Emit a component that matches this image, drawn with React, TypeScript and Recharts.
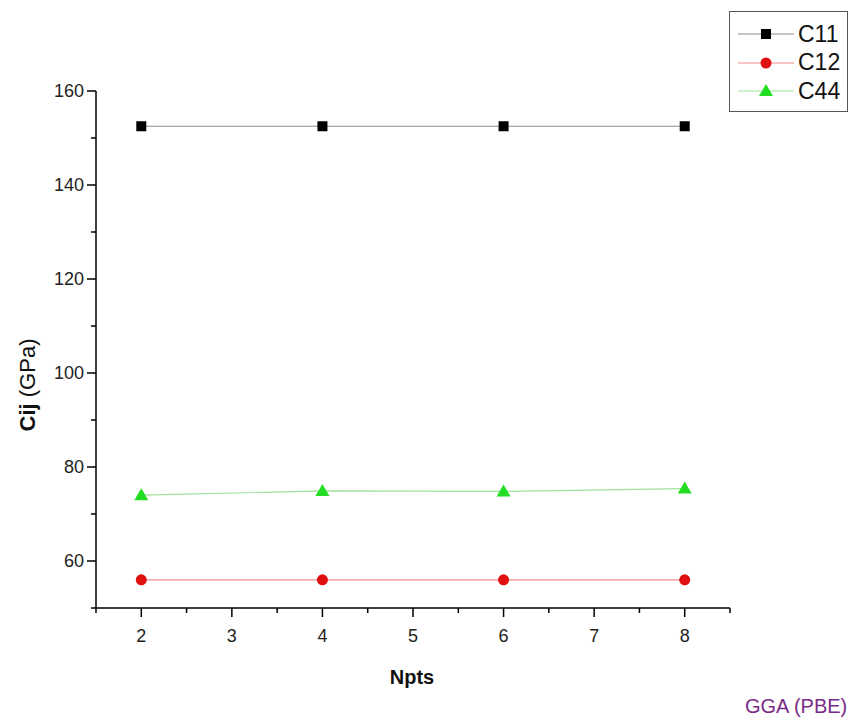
import { LineChart, Line, XAxis, YAxis, Legend, Label } from "recharts";

const npts = [2, 4, 6, 8];
const c11 = [152.5, 152.5, 152.5, 152.5];
const c12 = [56, 56, 56, 56];
const c44 = [74.0, 74.9, 74.8, 75.4];

const xTicks = [1.5, 2, 2.5, 3, 3.5, 4, 4.5, 5, 5.5, 6, 6.5, 7, 7.5, 8, 8.5];
const yTicks = [50, 60, 70, 80, 90, 100, 110, 120, 130, 140, 150, 160];

const seriesNames = ["C11", "C12", "C44"];
const lineColors = ["#8c8c8c", "#f08c8c", "#9ee09e"];
const markColors = ["#000000", "#e01010", "#22dd22"];

const data = npts.map((n, i) => ({ n, C11: c11[i], C12: c12[i], C44: c44[i] }));

const FONT = "'Liberation Sans', Arial, sans-serif";

function Marker({ kind, cx, cy }: { kind: number; cx: number; cy: number }) {
  if (kind === 0)
    return <rect x={cx - 5} y={cy - 5} width={10} height={10} fill={markColors[0]} />;
  if (kind === 1) return <circle cx={cx} cy={cy} r={5.5} fill={markColors[1]} />;
  return (
    <polygon
      points={`${cx},${cy - 7} ${cx - 7},${cy + 5} ${cx + 7},${cy + 5}`}
      fill={markColors[2]}
    />
  );
}

const XTick = (props: any) => {
  const { x, y, payload } = props;
  const major = Number.isInteger(payload.value);
  return (
    <g>
      <line x1={x} y1={y} x2={x} y2={y + (major ? 9 : 5)} stroke="#000" strokeWidth={1.5} />
      {major && payload.value >= 2 && payload.value <= 8 && (
        <text x={x} y={y + 34} textAnchor="middle" fontSize={18} fill="#222" fontFamily={FONT}>
          {payload.value}
        </text>
      )}
    </g>
  );
};

const YTick = (props: any) => {
  const { x, y, payload } = props;
  const major = payload.value % 20 === 0;
  return (
    <g>
      <line x1={x} y1={y} x2={x - (major ? 9 : 5)} y2={y} stroke="#000" strokeWidth={1.5} />
      {major && (
        <text x={x - 12} y={y + 6} textAnchor="end" fontSize={18} fill="#222" fontFamily={FONT}>
          {payload.value}
        </text>
      )}
    </g>
  );
};

const LegendBox = () => (
  <div
    style={{
      width: 119,
      height: 101,
      border: "1px solid #555",
      background: "#fff",
      fontFamily: FONT,
      paddingTop: 8,
      boxSizing: "border-box",
    }}
  >
    {seriesNames.map((name, i) => (
      <div key={name} style={{ display: "flex", alignItems: "center", height: 28.5 }}>
        <svg width={68} height={24}>
          <line x1={8} y1={12} x2={64} y2={12} stroke={lineColors[i]} strokeWidth={1} />
          <Marker kind={i} cx={36} cy={12} />
        </svg>
        <span style={{ fontSize: 23, color: "#111" }}>{name}</span>
      </div>
    ))}
  </div>
);

export default function App() {
  return (
    <div style={{ position: "absolute", left: 0, top: 0, width: 853, height: 720, background: "#fff" }}>
      <LineChart width={853} height={720} data={data} margin={{ top: 91, right: 123, bottom: 52, left: 16 }}>
        <XAxis
          dataKey="n"
          type="number"
          domain={[1.5, 8.5]}
          ticks={xTicks}
          interval={0}
          allowDataOverflow
          height={60}
          tickSize={0}
          tickMargin={0}
          tickLine={false}
          axisLine={{ stroke: "#000", strokeWidth: 1.5 }}
          tick={XTick}
        >
          <Label
            content={() => (
              <text x={412} y={684} textAnchor="middle" fontSize={20} fontWeight="bold" fill="#111" fontFamily={FONT}>
                Npts
              </text>
            )}
          />
        </XAxis>
        <YAxis
          type="number"
          domain={[50, 160]}
          ticks={yTicks}
          interval={0}
          allowDataOverflow
          width={80}
          tickSize={0}
          tickMargin={0}
          tickLine={false}
          axisLine={{ stroke: "#000", strokeWidth: 1.5 }}
          tick={YTick}
        >
          <Label
            content={() => (
              <text
                x={0}
                y={0}
                transform="translate(35, 385) rotate(-90)"
                textAnchor="middle"
                fontSize={22}
                fill="#111"
                fontFamily={FONT}
              >
                <tspan fontWeight="bold">Cij</tspan>
                <tspan> (GPa)</tspan>
              </text>
            )}
          />
        </YAxis>
        <Legend
          layout="vertical"
          align="center"
          verticalAlign="middle"
          content={LegendBox}
          wrapperStyle={{ left: 729, top: 11, width: 119, height: 101 }}
        />
        {seriesNames.map((name, i) => (
          <Line
            key={name}
            dataKey={name}
            stroke={lineColors[i]}
            strokeWidth={1.2}
            isAnimationActive={false}
            dot={(p: any) => <Marker key={`${name}-${p.index}`} kind={i} cx={p.cx} cy={p.cy} />}
            activeDot={false}
          />
        ))}
      </LineChart>
      <div
        style={{
          position: "absolute",
          left: 745,
          top: 695,
          fontFamily: FONT,
          fontSize: 20,
          color: "#7a2b86",
          whiteSpace: "nowrap",
        }}
      >
        GGA (PBE)
      </div>
    </div>
  );
}
